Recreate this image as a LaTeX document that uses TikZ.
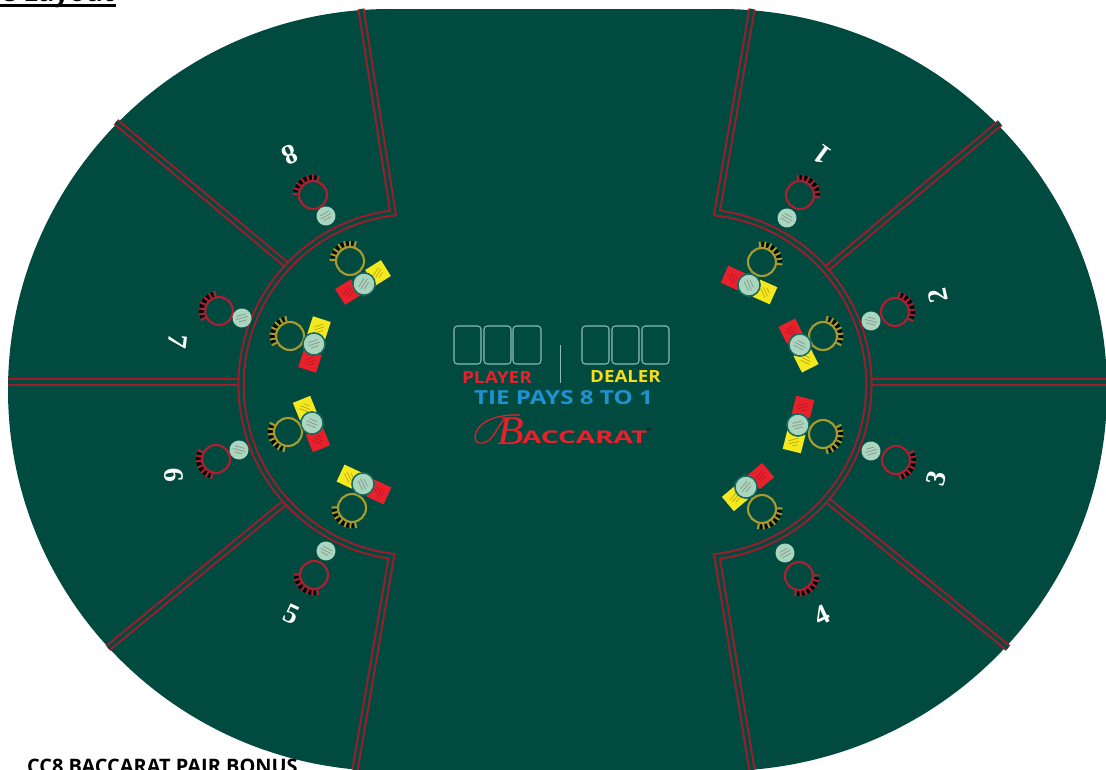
\documentclass[tikz,border=0pt]{standalone}
\usepackage{fontspec}
\usepackage{graphicx}
\setmainfont{Liberation Serif}
\newfontfamily\sansb{Open Sans}
\definecolor{felt}{HTML}{004A40}
\definecolor{rail}{HTML}{A01C2A}
\definecolor{ringred}{HTML}{B01E30}
\definecolor{ringyel}{HTML}{A89A2C}
\definecolor{mint}{HTML}{A9D6BE}
\definecolor{halo}{HTML}{1A6A60}
\definecolor{cardline}{HTML}{8CBDB4}
\definecolor{chipred}{HTML}{E8202C}
\definecolor{chipyel}{HTML}{F6E81E}
\definecolor{tieblue}{HTML}{1F93CF}
\tikzset{
  railline/.style={draw=rail,line width=1.5pt,double=felt,double distance=2.4pt,line join=miter},
  seatno/.style={text=white,font=\fontsize{21}{21}\selectfont\bfseries,inner sep=0pt},
  betchip/.style={minimum width=14pt,minimum height=14pt,inner sep=0pt},
  cardbox/.style={draw=cardline,line width=0.8pt,rounded corners=2.5pt},
  plainlabel/.style={inner sep=0pt,outer sep=0pt}
}
% ring with its arc of tiny lettering: x, y, direction, colour
\newcommand{\betring}[4]{%
  \begin{scope}[shift={(#1,#2)},yscale=-1]
    \fill[black!90!felt] (#3-46:15) arc[start angle=#3-46,end angle=#3+46,radius=15]
       -- (#3+46:20) arc[start angle=#3+46,end angle=#3-46,radius=20] -- cycle;
    \foreach \t in {-52,-35,-18,0,18,35,52}
      \draw[#4,line width=1.5pt] (#3+\t:15) -- (#3+\t:20.5);
    \draw[#4,line width=1.6pt] (0,0) circle[radius=14];
  \end{scope}}
% pale round disc with grey lettering: x, y, radius, direction of lines
\newcommand{\betdisc}[4]{%
  \begin{scope}[shift={(#1,#2)},yscale=-1,rotate=#4]
    \fill[mint] (0,0) circle[radius=#3];
    \draw[gray!70!mint,line width=0.6pt] (-3,-5) -- (-3,5) (0,-6) -- (0,6) (3,-4) -- (3,4);
  \end{scope}}
% tiny lettering on a coloured chip: x, y, angle, colour
\newcommand{\chipmarks}[4]{%
  \begin{scope}[shift={(#1,#2)},yscale=-1,rotate=#3]
    \draw[#4,line width=0.45pt] (-2.5,-5) -- (-2.5,5) (0.5,-5) -- (0.5,5) (3.5,-3) -- (3.5,3);
  \end{scope}}
% main bet: ring x,y,dir; disc x,y; red x,y; yellow x,(\ybet); axis angle
\newcommand{\mainbet}[9]{%
  \betring{#1}{#2}{#3}{ringyel}
  \node[betchip,fill=chipred,rotate=#9] (r#1#2) at (#6,#7) {};
  \chipmarks{#6}{#7}{#9}{chipred!75!black}
  \node[betchip,fill=chipyel,rotate=#9] (y#1#2) at (#8,\ybet) {};
  \chipmarks{#8}{\ybet}{#9}{chipyel!70!black}
  \draw[halo,line width=1.3pt,fill=mint] (#4,#5) circle[radius=11];
  \betdisc{#4}{#5}{10}{#9}}
\begin{document}
\begin{tikzpicture}[x=0.75pt,y=-0.75pt]
\useasboundingbox (0,0) rectangle (1106,770);
\clip (0,0) rectangle (1106,770);
\fill[white] (0,0) rectangle (1106,770);
% table
\fill[felt] (390,390) circle[x radius=382,y radius=381];
\fill[felt] (720,390) circle[x radius=387,y radius=381];
\fill[felt] (390,9) rectangle (720,771);
% spokes
\draw[railline] (116,122) -- (288,266);
\draw[railline] (8,382) -- (245,382);
\draw[railline] (108,648) -- (288,500);
\draw[railline] (1000,123) -- (825,270);
\draw[railline] (1106,382) -- (868,382);
\draw[railline] (1008,648) -- (827,500);
% rails round the dealer
\draw[railline] (361,9) -- (393,213) arc[start angle=-97,end angle=-262.5,radius=173] -- (355,770);
\draw[railline] (752,9) -- (717,213) arc[start angle=-83,end angle=83,radius=173] -- (752,770);
% outer seats
\betring{800}{195}{45}{ringred}  \betdisc{787}{218}{9.5}{-60}
\betring{895}{312}{25}{ringred}  \betdisc{871}{321}{9.5}{-75}
\betring{896}{460}{-25}{ringred} \betdisc{871}{451}{9.5}{-105}
\betring{799}{576}{-50}{ringred} \betdisc{785}{553}{9.5}{-120}
\betring{314}{575}{230}{ringred} \betdisc{326}{551}{9.5}{120}
\betring{216}{459}{205}{ringred} \betdisc{239}{450}{9.5}{105}
\betring{219}{311}{155}{ringred} \betdisc{242}{318}{9.5}{75}
\betring{313}{195}{125}{ringred} \betdisc{326}{216}{9.5}{60}
% main bets
\def\ybet{292}\mainbet{762}{262}{45}{749}{285}{733}{278}{765}{-24}
\def\ybet{360}\mainbet{823}{336}{25}{800}{345}{791}{331}{806}{-63}
\def\ybet{442}\mainbet{823}{434}{-25}{798}{425}{803}{407}{794}{76}
\def\ybet{498}\mainbet{762}{509}{-50}{746}{487}{761}{476}{735}{40}
\def\ybet{273}\mainbet{350}{261}{125}{364}{284}{348}{292}{378}{32}
\def\ybet{328}\mainbet{290}{336}{155}{314}{344}{310}{361}{319}{72}
\def\ybet{408}\mainbet{288}{432}{205}{312}{423}{318}{440}{305}{-68}
\def\ybet{477}\mainbet{352}{508}{230}{363}{484}{379}{492}{349}{-25}
% seat numbers
\node[seatno,rotate=144] (n1) at (822,155) {1};
\node[seatno,rotate=103] (n2) at (938,296) {2};
\node[seatno,rotate=76]  (n3) at (936,478) {3};
\node[seatno,rotate=25]  (n4) at (822,615) {4};
\node[seatno,rotate=-25] (n5) at (292,614) {5};
\node[seatno,rotate=-88] (n6) at (174,475) {6};
\node[seatno,rotate=-97] (n7) at (178,342) {7};
\node[seatno,rotate=-155](n8) at (290,155) {8};
% cards
\draw[cardbox] (454,326) rectangle (481,364);
\draw[cardbox] (484,326) rectangle (511,364);
\draw[cardbox] (513,326) rectangle (541,364);
\draw[cardbox] (582,326) rectangle (609,364);
\draw[cardbox] (612,326) rectangle (639,364);
\draw[cardbox] (642,326) rectangle (669,364);
\draw[cardline,line width=0.6pt] (560,345) -- (560,383);
% labels
\node[plainlabel,text=chipred] (pl) at (497,377) {\resizebox{52.5pt}{9pt}{\sansb\bfseries PLAYER}};
\node[plainlabel,text=chipyel!90!orange] (dl) at (625.5,376) {\resizebox{53pt}{9pt}{\sansb\bfseries DEALER}};
\node[plainlabel,text=tieblue] (tie) at (563.5,398) {\resizebox{134pt}{10.5pt}{\sansb\bfseries TIE PAYS 8 TO 1}};
\draw[chipred,line width=0.9pt] (520,415) .. controls (500,414) and (478,420) .. (475,436) .. controls (474,446) and (486,445) .. (492,437) .. controls (497,431) and (499,424) .. (505,419);
\node[plainlabel,text=chipred,anchor=west] (b1) at (497,431) {\resizebox{20pt}{20pt}{\itshape B}};
\node[plainlabel,text=chipred,anchor=west] (b2) at (522,437) {\resizebox{94pt}{9.5pt}{\sansb\bfseries ACCARAT}};
\node[plainlabel,text=black,anchor=west] (tm) at (647,429) {\resizebox{3pt}{1.5pt}{\bfseries TM}};
% cropped captions
\node[plainlabel,anchor=base west] (cap1) at (1,2) {\resizebox{85pt}{!}{\sansb\bfseries e Layout}};
\fill[black] (0,4) rectangle (116,7);
\node[plainlabel,anchor=base west] (cap2) at (27,773) {\resizebox{203pt}{!}{\sansb\bfseries CC8 BACCARAT PAIR BONUS}};
\end{tikzpicture}
\end{document}
